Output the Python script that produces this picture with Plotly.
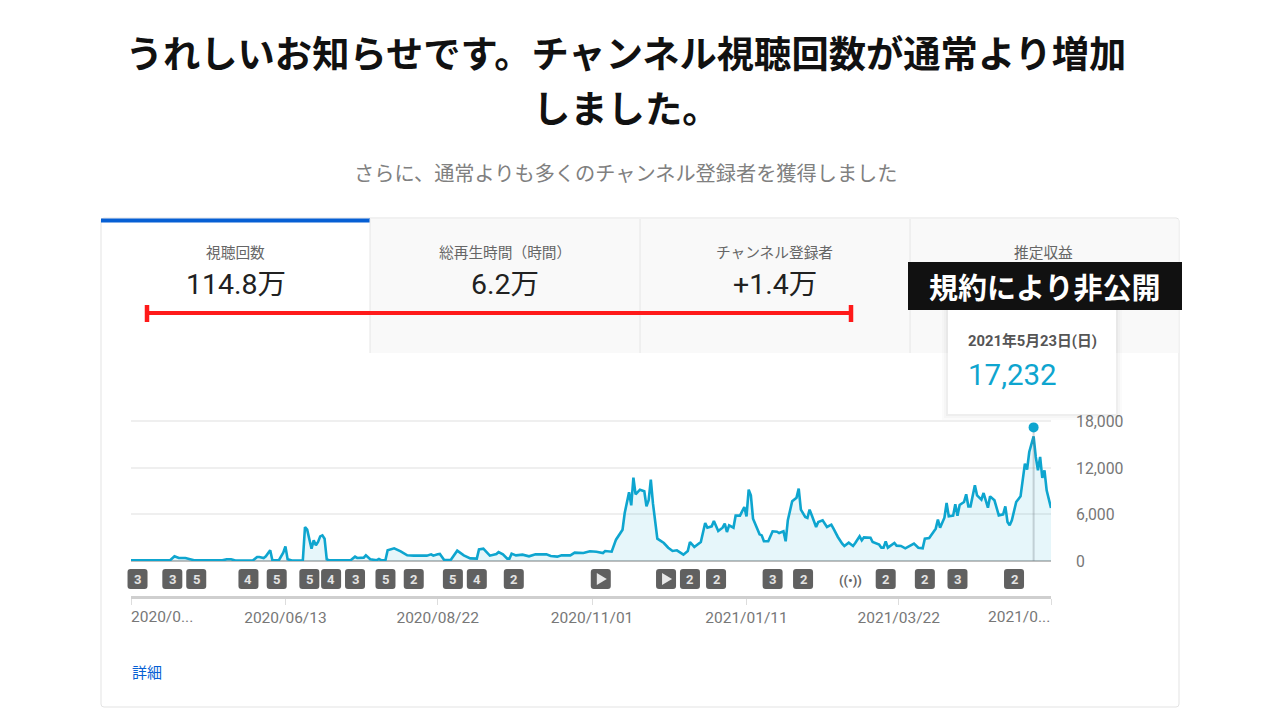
import pandas as pd
import plotly.graph_objects as go

W = 1280
H = 720

# 日次の視聴回数 (2020/04/03 からの経過日数, 回数)
start_date = pd.Timestamp('2020-04-03')
end_date = pd.Timestamp('2021-05-31')

day_offsets = [
    0, 18, 20, 22, 25, 29, 42, 44, 46, 48, 56, 58, 59, 61, 62, 64, 65, 68, 70, 71, 72, 74, 79, 80, 81, 83, 84, 85, 86, 87,
    88, 89, 90, 91, 101, 103, 104, 107, 108, 110, 113, 114, 115, 117, 118, 119, 121, 124, 127, 130, 136, 138, 139, 141,
    142, 144, 147, 150, 153, 156, 159, 160, 162, 165, 168, 169, 171, 173, 174, 175, 177, 180, 183, 186, 191, 193, 196,
    198, 202, 204, 208, 211, 214, 217, 218, 221, 223, 226, 227, 229, 230, 231, 232, 234, 236, 237, 238, 239, 240, 242,
    245, 247, 249, 251, 254, 256, 257, 259, 262, 264, 265, 267, 268, 270, 272, 273, 274, 275, 277, 278, 280, 282, 283,
    284, 285, 286, 289, 290, 291, 293, 295, 297, 298, 300, 301, 302, 304, 306, 307, 308, 310, 311, 312, 313, 315, 316,
    318, 320, 322, 323, 325, 327, 328, 330, 332, 333, 335, 336, 337, 340, 341, 344, 345, 346, 347, 348, 351, 352, 354,
    356, 360, 362, 364, 365, 367, 370, 371, 372, 374, 375, 376, 378, 379, 380, 381, 383, 384, 385, 386, 388, 389, 391,
    392, 394, 395, 397, 399, 401, 402, 403, 404, 405, 407, 409, 411, 412, 413, 415, 416, 417, 418, 419, 420, 421, 423,
]
views = [
    80, 100, 600, 390, 390, 100, 80, 220, 220, 60, 60, 520, 520, 390, 600, 1380, 100, 100, 1075, 1890, 220, 60, 60, 4390,
    4040, 1590, 2670, 2020, 2450, 3180, 3310, 2880, 220, 100, 100, 560, 390, 430, 730, 220, 100, 260, 100, 130, 1380,
    1460, 1630, 1250, 730, 690, 690, 860, 690, 860, 900, 130, 130, 1330, 730, 340, 300, 1500, 1590, 690, 900, 1160, 860,
    300, 300, 950, 730, 820, 600, 860, 860, 650, 560, 730, 730, 1075, 1030, 1250, 1200, 1030, 1290, 1200, 2750, 4040,
    6190, 8860, 7180, 10750, 8600, 9200, 8990, 7050, 7830, 10490, 7400, 2880, 2320, 1720, 1290, 1380, 820, 1290, 2450,
    1810, 2450, 4900, 4300, 4470, 5160, 3870, 4300, 4820, 3740, 4600, 4300, 5850, 5850, 6970, 5760, 9200, 8470, 5460,
    3440, 3310, 2540, 2540, 3830, 3780, 3610, 3830, 2540, 5250, 7700, 8170, 9330, 6620, 5680, 5550, 6620, 5890, 4390,
    5030, 5250, 4390, 4690, 4170, 3100, 2240, 1940, 2370, 1940, 2320, 3180, 2670, 3050, 3010, 2450, 2110, 1720, 1720,
    2540, 1720, 2320, 1980, 1940, 1630, 2240, 1720, 1630, 2880, 2970, 4170, 5330, 4300, 5590, 7480, 5760, 5850, 7310,
    5850, 7220, 7610, 8600, 7050, 7050, 9760, 8470, 7910, 8770, 6880, 8340, 7830, 5890, 6020, 7050, 5030, 4600, 5250,
    7610, 8340, 12560, 11780, 14060, 16080, 13420, 11700, 13420, 10710, 11700, 9120, 6840,
]

peak_date = '2021-05-23'
peak_value = 17232

tick_dates = ['2020-04-03', '2020-06-13', '2020-08-22', '2020-11-01', '2021-01-11', '2021-03-22', '2021-05-31']
tick_labels = ['', '2020/06/13', '2020/08/22', '2020/11/01', '2021/01/11', '2021/03/22', '']
y_ticks = [0, 6000, 12000, 18000]

# 動画公開などのイベント (経過日数, ラベル)
event_days = [3, 19, 30, 54, 67, 82, 92, 103, 117, 130, 148, 159, 176, 216, 246, 257, 269, 295, 309, 331, 347, 365, 380, 406]
event_labels = ['3', '3', '5', '4', '5', '5', '4', '3', '5', '2', '5', '4', '2', 'play', 'play', '2', '2', '3', '2', 'live', '2', '2', '3', '2']

tab_names = ['視聴回数', '総再生時間（時間）', 'チャンネル登録者', '推定収益']
tab_values = ['114.8万', '6.2万', '+1.4万', '']

JP = 'Noto Sans CJK JP'
RB = 'Roboto, Noto Sans CJK JP'
LINE = '#0ea5cf'

# プロット領域 (ピクセル)
PLOT_L = 131
PLOT_R = 1051
TOTAL_DAYS = (end_date - start_date).days


def px(x):
    return x / W


def py(y):
    return 1 - y / H


def rect(x0, y0, x1, y1, fill, line='rgba(0,0,0,0)', layer='below', width=1):
    return dict(type='rect', xref='paper', yref='paper', x0=px(x0), x1=px(x1), y0=py(y0), y1=py(y1),
                fillcolor=fill, line=dict(color=line, width=width), layer=layer)


def seg(x0, y0, x1, y1, color, width=1, layer='below'):
    return dict(type='line', xref='paper', yref='paper', x0=px(x0), x1=px(x1), y0=py(y0), y1=py(y1),
                line=dict(color=color, width=width), layer=layer)


def label(x, y, text, size, color, family=JP, anchor='center'):
    return dict(xref='paper', yref='paper', x=px(x), y=py(y), text=text, showarrow=False, xanchor=anchor,
                yanchor='middle', font=dict(family=family, size=size, color=color))


dates = [start_date + pd.Timedelta(days=d) for d in day_offsets]

fig = go.Figure()
fig.add_trace(go.Scatter(x=dates, y=views, mode='lines', line=dict(color=LINE, width=2.6),
                         fill='tozeroy', fillcolor='rgba(14,165,207,0.1)', showlegend=False))
fig.add_trace(go.Scatter(x=[peak_date, peak_date], y=[0, peak_value], mode='lines',
                         line=dict(color='rgba(110,120,130,0.3)', width=2), showlegend=False))
fig.add_trace(go.Scatter(x=[peak_date], y=[peak_value], mode='markers', marker=dict(color=LINE, size=10),
                         cliponaxis=False, showlegend=False))

shapes = []
annotations = []

# カードとタブ
shapes.append(dict(type='path', xref='paper', yref='paper', layer='below',
                   path=f'M {px(104)},{py(218)} L {px(1176)},{py(218)} Q {px(1179)},{py(218)} {px(1179)},{py(221)} '
                        f'L {px(1179)},{py(704)} Q {px(1179)},{py(707)} {px(1176)},{py(707)} '
                        f'L {px(104)},{py(707)} Q {px(101)},{py(707)} {px(101)},{py(704)} '
                        f'L {px(101)},{py(221)} Q {px(101)},{py(218)} {px(104)},{py(218)} Z',
                   fillcolor='white', line=dict(color='#e3e3e3', width=1)))
shapes.append(rect(370, 219, 1178.5, 353, '#f9f9f9'))
shapes.append(rect(101, 218.5, 370, 222.5, '#065fd4'))
for x in [370, 640, 910]:
    shapes.append(seg(x, 219, x, 353, '#e6e6e6'))

tab_centers = [236, 505, 775, 1044]
for cx, name, val in zip(tab_centers, tab_names, tab_values):
    annotations.append(label(cx - 0.5, 252, name, 14.7, '#666666'))
    if val:
        annotations.append(label(cx, 285, val, 28.5, '#212121', family=RB))

# 赤いスケール線
shapes.append(seg(147, 313, 851, 313, '#ff1a1a', 4, 'above'))
shapes.append(seg(147, 305, 147, 322, '#ff1a1a', 4.5, 'above'))
shapes.append(seg(851, 305, 851, 322, '#ff1a1a', 4.5, 'above'))

# ツールチップ
for i, alpha in zip([6, 4, 2], [0.015, 0.02, 0.03]):
    shapes.append(rect(948 - i, 310, 1116 + i, 414 + i, f'rgba(0,0,0,{alpha})', layer='above'))
shapes.append(rect(948, 310, 1116, 414, 'white', layer='above'))
annotations.append(label(965.5, 341, '<b>2021年5月23日(日)</b>', 14.8, '#555555', family=RB, anchor='left'))
annotations.append(label(965.5, 375, '17,232', 29.5, '#0ea5cf', family=RB, anchor='left'))

# 黒帯
shapes.append(rect(908, 262, 1182, 310, '#111111', layer='above'))
annotations.append(label(1044, 286, '<b>規約により非公開</b>', 29, 'white'))

# イベントのバッジ (左端で切れないように paper 座標で置く)
r = 10
badge = (f'M {-r + 3},{-r} L {r - 3},{-r} Q {r},{-r} {r},{-r + 3} L {r},{r - 3} Q {r},{r} {r - 3},{r} '
         f'L {-r + 3},{r} Q {-r},{r} {-r},{r - 3} L {-r},{-r + 3} Q {-r},{-r} {-r + 3},{-r} Z')
for d, lab in zip(event_days, event_labels):
    ex = px(PLOT_L + (PLOT_R - PLOT_L) * d / TOTAL_DAYS)
    if lab == 'live':
        annotations.append(dict(xref='paper', yref='paper', x=ex, y=py(580), text='<b>((•))</b>', showarrow=False,
                                xanchor='center', yanchor='middle', font=dict(family=RB, size=13, color='#666666')))
        continue
    shapes.append(dict(type='path', xref='paper', yref='paper', xsizemode='pixel', ysizemode='pixel', xanchor=ex,
                       yanchor=py(579), path=badge, fillcolor='#606060', line=dict(width=0), layer='above'))
    if lab == 'play':
        shapes.append(dict(type='path', xref='paper', yref='paper', xsizemode='pixel', ysizemode='pixel', xanchor=ex,
                           yanchor=py(579), path='M -4,-6 L 6,0 L -4,6 Z', fillcolor='#e8e8e8',
                           line=dict(width=0), layer='above'))
    else:
        annotations.append(dict(xref='paper', yref='paper', x=ex, y=py(579), text=f'<b>{lab}</b>', showarrow=False,
                                xanchor='center', yanchor='middle', font=dict(family=RB, size=13, color='#e4e4e4')))

# 軸の両端のラベル
annotations.append(label(129, 617, '2020/0...', 15.5, '#777777', family=RB, anchor='left'))
annotations.append(label(1052, 617, '2021/0...', 15.5, '#777777', family=RB, anchor='right'))

# 見出し
annotations.append(label(626, 107, '<b>しました。</b>', 37.3, '#111111'))
annotations.append(label(625.5, 172, 'さらに、通常よりも多くのチャンネル登録者を獲得しました', 20.2, '#808080'))
annotations.append(label(146.5, 671, '詳細', 15, '#065fd4'))

fig.update_layout(
    width=W, height=H, autosize=False,
    margin=dict(l=0, r=0, t=0, b=0),
    paper_bgcolor='white', plot_bgcolor='rgba(0,0,0,0)',
    showlegend=False,
    title=dict(text='<b>うれしいお知らせです。チャンネル視聴回数が通常より増加</b>', x=px(626), xanchor='center',
               y=py(55), yanchor='middle', font=dict(family=JP, size=37.3, color='#111111')),
    xaxis=dict(domain=[px(PLOT_L), px(PLOT_R)], range=[start_date, end_date], anchor='free', position=py(597),
               automargin=False, tickvals=tick_dates, ticktext=tick_labels, showgrid=False, zeroline=False,
               showline=True, linecolor='#cfcfcf', linewidth=2.5, ticks='outside', ticklen=6, tickwidth=1,
               tickcolor='#dddddd', tickfont=dict(family=RB, size=15.5, color='#777777')),
    yaxis=dict(domain=[py(561), py(419.9)], range=[0, 18200], side='right', tickvals=y_ticks,
               automargin=False, tickformat=',d', ticklabelstandoff=24, showgrid=True, gridcolor='#efefef', gridwidth=2,
               zeroline=True, zerolinecolor='#bdbdbd', zerolinewidth=2, showline=False,
               tickfont=dict(family=RB, size=15.8, color='#777777')),
    shapes=shapes,
    annotations=annotations,
)

# ページ余白を消す
fig.write_html("out.html", post_script="document.body.style.margin='0';", config=dict(displayModeBar=False))
